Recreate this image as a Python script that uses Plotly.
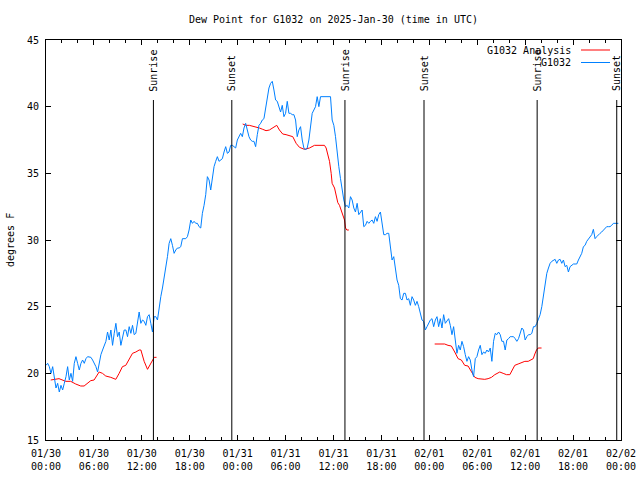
import pandas as pd
import plotly.graph_objects as go

START = pd.Timestamp("2025-01-30 00:00")

# G1032 observed dew point (deg F), sampled every 12.5 minutes from 01/30 00:00
G1032_VALUES = [
    20.6, 20.75, 20.5, 20.0, 20.5, 19.5, 18.9, 19.25, 18.6, 19.1, 18.75, 19.25, 19.75, 20.5, 19.5, 20.0,
    19.4, 20.75, 21.25, 20.75, 20.25, 20.75, 21.0, 20.75, 21.1, 21.25, 21.25, 21.2, 21.0, 20.75, 20.5, 20.1,
    20.75, 21.4, 21.75, 22.1, 22.4, 23.1, 22.5, 23.25, 22.1, 23.0, 23.75, 22.75, 23.1, 22.1, 22.75, 23.25,
    23.25, 22.75, 23.5, 23.0, 23.6, 22.9, 23.0, 24.0, 24.6, 23.75, 24.0, 23.9, 23.6, 24.25, 24.4, 23.75,
    23.1, 24.25, 24.25, 24.0, 25.0, 25.75, 26.4, 27.1, 27.9, 28.75, 29.75, 30.1, 29.6, 29.0, 29.25, 29.4,
    29.4, 29.5, 30.1, 30.1, 30.1, 30.25, 30.75, 31.5, 31.25, 31.4, 31.25, 31.25, 31.0, 30.9, 32.0, 32.6,
    33.4, 34.75, 34.5, 33.75, 34.75, 35.5, 35.9, 36.25,
    35.9, 36.0, 36.1, 36.6, 37.0, 36.5, 36.6, 37.1, 37.1, 37.0, 36.9, 37.5, 37.75, 38.0, 37.75, 38.4,
    38.75, 38.25, 37.75, 37.5, 37.4, 37.4, 37.0, 37.9, 38.6, 38.75, 39.0, 39.1, 40.0, 40.75, 41.4, 41.75,
    41.9, 41.25, 40.5, 40.4, 40.0, 39.6, 40.1, 39.25, 39.5, 40.4, 39.5, 39.5, 39.4, 39.4, 39.0, 37.75,
    38.25, 38.5, 37.5, 36.9, 36.75, 36.9, 37.5, 38.5, 39.5, 39.75, 40.0, 40.75, 40.0, 40.75, 40.75, 40.75,
    40.75, 40.75, 40.75, 40.75, 39.0, 38.6, 37.75, 36.5, 35.5, 34.6, 33.75, 33.0, 32.5, 32.6, 32.4, 33.25,
    33.0, 32.4, 32.1, 32.75, 31.9, 32.1, 32.25, 31.0, 31.1, 31.4, 31.25, 31.4, 31.5, 31.25, 31.75, 31.4,
    31.9, 32.1, 31.4, 30.4, 30.4, 30.5, 30.5, 29.5, 28.5, 28.75, 28.0, 27.0,
    26.6, 25.6, 25.5, 26.0, 26.0, 25.5, 25.6, 25.1, 25.75, 25.5, 25.1, 25.4, 25.0, 24.4, 24.0, 23.9,
    23.25, 23.5, 23.75, 24.0, 24.1, 23.5, 24.0, 24.25, 23.5, 24.1, 23.4, 24.4, 23.75, 23.9, 24.1, 23.6,
    22.9, 23.5, 22.4, 21.5, 22.1, 21.75, 22.4, 22.0, 21.4, 20.9, 21.25, 21.0, 20.25, 19.75, 21.1, 21.25,
    21.75, 22.1, 21.4, 21.6, 21.5, 21.75, 21.6, 21.9, 20.9, 22.4, 23.0, 22.9, 23.1, 22.9, 22.4, 22.4,
    21.75, 22.5, 22.6, 22.75, 22.75, 22.75, 22.6, 22.4, 22.6, 23.0, 23.4, 23.25, 22.5, 22.75, 22.9, 22.9,
    23.0, 23.5, 23.5, 23.75, 24.1, 24.4, 25.0, 25.75, 26.75, 27.5, 27.9, 28.25, 28.4, 28.5, 28.55, 28.25,
    28.5, 28.55, 28.25, 28.5, 28.0, 28.1, 27.6, 28.0, 28.1, 28.2, 28.2, 28.2, 28.5, 28.75, 29.0, 29.5,
    29.6, 29.9, 30.1, 30.25, 30.4, 30.8, 30.1, 30.25, 30.4, 30.5, 30.6, 30.75, 30.9, 31.0, 31.0, 31.0,
    31.1, 31.25, 31.25, 31.25, 31.25,
]
G1032_STEP_MIN = 12.5

# G1032 Analysis: three night-time segments (hours after 01/30 00:00, deg F)
ANALYSIS_HOURS = [
    [0.59, 1.63, 2.47, 3.09, 3.72, 4.35, 4.77, 5.18, 5.60, 6.02, 6.44, 6.65, 7.07, 7.48, 8.11, 8.74,
     9.16, 9.57, 9.99, 10.41, 10.83, 11.25, 11.67, 11.88, 12.29, 12.71, 13.13, 13.55, 13.84],
    [24.63, 25.05, 25.46, 26.30, 26.72, 27.14, 27.55, 27.97, 28.39, 28.89, 29.23, 29.64, 30.06, 30.48,
     30.90, 31.32, 31.74, 32.36, 32.99, 33.62, 34.24, 34.87, 35.08, 35.29, 35.50, 35.71, 35.83, 36.13,
     36.34, 36.54, 36.75, 36.96, 37.17, 37.38, 37.51, 37.67, 37.92],
    [48.67, 49.92, 50.34, 50.76, 51.18, 51.60, 52.01, 52.43, 52.85, 53.27, 53.69, 54.11, 54.52, 54.94,
     55.36, 55.78, 56.20, 56.62, 56.82, 57.24, 57.66, 58.08, 58.50, 58.70, 59.12, 59.54, 59.96, 60.38,
     60.80, 61.01, 61.21, 61.42, 61.63, 62.05],
]
ANALYSIS_VALUES = [
    [19.5, 19.6, 19.4, 19.4, 19.2, 19.05, 19.05, 19.25, 19.45, 19.5, 19.9, 20.1, 20.0, 19.8, 19.7, 19.55,
     20.0, 20.5, 20.6, 21.1, 21.5, 21.6, 21.75, 21.75, 20.9, 20.3, 20.75, 21.2, 21.2],
    [38.7, 38.6, 38.6, 38.5, 38.4, 38.3, 38.2, 38.25, 38.4, 38.6, 38.25, 37.95, 37.9, 37.8, 37.75, 37.25,
     36.95, 36.8, 36.9, 37.1, 37.1, 37.1, 36.9, 36.4, 35.9, 35.0, 34.25, 33.9, 33.25, 32.8, 32.6, 32.25,
     31.9, 31.5, 30.9, 30.75, 30.75],
    [22.2, 22.2, 22.1, 22.05, 21.6, 21.1, 21.0, 20.6, 20.55, 20.1, 19.7, 19.6, 19.55, 19.55, 19.6, 19.7,
     19.9, 20.05, 20.1, 20.0, 19.9, 19.9, 20.4, 20.6, 20.7, 20.8, 20.9, 20.9, 21.05, 21.1, 21.45, 21.75,
     21.9, 21.9],
]

SUN_TIMES = ["2025-01-30 13:27", "2025-01-30 23:16", "2025-01-31 13:26",
             "2025-01-31 23:20", "2025-02-01 13:30", "2025-02-01 23:28"]
SUN_LABELS = ["Sunrise", "Sunset", "Sunrise", "Sunset", "Sunrise", "Sunset"]

TITLE = "Dew Point for G1032 on 2025-Jan-30 (time in UTC)"
Y_LABEL = "degrees F"
X_RANGE = ["2025-01-30 00:00", "2025-02-02 00:00"]
Y_RANGE = [15, 45]

FONT = "DejaVu Sans Mono"
BLUE = "#0080ff"
RED = "#ff0000"

# plot area in pixels (gnuplot-like layout)
L, R, T, B = 46, 621, 40, 440
PW, PH = R - L, B - T

blue_x = pd.date_range(START, periods=len(G1032_VALUES), freq=pd.Timedelta(minutes=G1032_STEP_MIN))

red_x, red_y = [], []
for hrs, vals in zip(ANALYSIS_HOURS, ANALYSIS_VALUES):
    red_x += [START + pd.Timedelta(hours=h) for h in hrs] + [None]
    red_y += list(vals) + [None]

fig = go.Figure()
fig.add_trace(go.Scatter(x=red_x, y=red_y, mode="lines", line=dict(color=RED, width=1),
                         name="G1032 Analysis", connectgaps=False, showlegend=False))
fig.add_trace(go.Scatter(x=blue_x, y=G1032_VALUES, mode="lines", line=dict(color=BLUE, width=1),
                         name="G1032", showlegend=False))

for t, lab in zip(SUN_TIMES, SUN_LABELS):
    fig.add_shape(type="line", x0=t, x1=t, y0=Y_RANGE[0], y1=40.5, xref="x", yref="y",
                  line=dict(color="black", width=1))
    fig.add_annotation(x=t, y=41.0, xref="x", yref="y", text=lab, textangle=-90,
                       showarrow=False, xanchor="center", yanchor="bottom",
                       font=dict(family=FONT, size=10, color="black"))

# gnuplot-style legend (text right-aligned, sample on the right)
legend_items = [("G1032 Analysis", RED), ("G1032", BLUE)]
for i, (name, col) in enumerate(legend_items):
    yp = 1 - (10 + 12.5 * i) / PH
    fig.add_annotation(x=(573 - L) / PW, y=yp, xref="paper", yref="paper", text=name,
                       showarrow=False, xanchor="right", yanchor="middle",
                       font=dict(family=FONT, size=10, color="black"))
    fig.add_shape(type="line", x0=(581 - L) / PW, x1=(610 - L) / PW, y0=yp, y1=yp,
                  xref="paper", yref="paper", line=dict(color=col, width=1))

# y-axis label, placed like gnuplot
fig.add_annotation(x=-(L - 10) / PW, y=0.5, xref="paper", yref="paper", text=Y_LABEL,
                   textangle=-90, showarrow=False, xanchor="center", yanchor="middle",
                   font=dict(family=FONT, size=10, color="black"))

fig.update_layout(
    width=640, height=480,
    margin=dict(l=L, r=640 - R, t=T, b=480 - B, autoexpand=False),
    paper_bgcolor="white", plot_bgcolor="white",
    font=dict(family=FONT, size=10, color="black"),
    title=dict(text=TITLE, x=(L + R) / 2 / 640, xanchor="center", y=1 - 19 / 480,
               yanchor="middle", font=dict(family=FONT, size=10)),
    showlegend=False,
)
fig.update_xaxes(
    type="date", range=X_RANGE, showgrid=False, zeroline=False, automargin=False,
    showline=True, linecolor="black", linewidth=1, mirror="allticks",
    ticks="inside", ticklen=5, tickcolor="black", dtick=6 * 3600 * 1000,
    tick0="2025-01-30 00:00", tickformat="%m/%d<br>%H:%M", ticklabelstandoff=4,
    minor=dict(ticks="inside", ticklen=3, dtick=2 * 3600 * 1000, tickcolor="black", showgrid=False),
    tickfont=dict(family=FONT, size=10),
)
fig.update_yaxes(
    range=Y_RANGE, showgrid=False, zeroline=False, automargin=False,
    showline=True, linecolor="black", linewidth=1, mirror="allticks",
    ticks="inside", ticklen=5, tickcolor="black", dtick=5, ticklabelstandoff=4,
    tickfont=dict(family=FONT, size=10),
)

fig.write_html("out.html", config={"displayModeBar": False},
               post_script="document.body.style.margin='0';")
